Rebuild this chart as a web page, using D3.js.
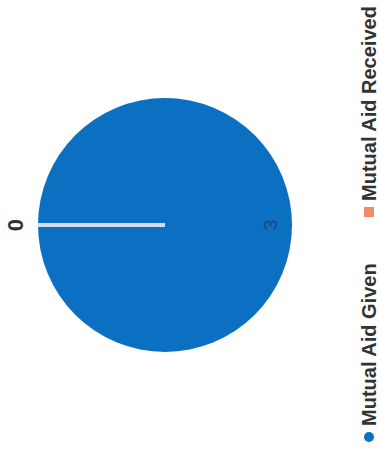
<!DOCTYPE html>
<html>
<head>
<meta charset="utf-8">
<script src="https://cdn.jsdelivr.net/npm/d3@7"></script>
<style>
  html, body { margin: 0; padding: 0; background: #ffffff; }
  svg { display: block; }
</style>
</head>
<body>
<svg id="chart" width="380" height="453"></svg>
<script>
// Pie data: share of mutual aid given vs. received
const categories = ["Mutual Aid Given", "Mutual Aid Received"];
const values = [3, 0];
const colors = ["#0b6fc2", "#f28c64"];

const W = 380, H = 453;
const svg = d3.select("#chart");

// The chart is laid out in a 453x380 frame, then turned a quarter turn counter-clockwise
const g = svg.append("g").attr("transform", `translate(0,${H}) rotate(-90)`);

const cx = 228, cy = 165, r = 127;

const pie = d3.pie().sort(null).value(d => d.value);
const arcs = pie(categories.map((c, i) => ({ name: c, value: values[i] })));
const arc = d3.arc().innerRadius(0).outerRadius(r);

const color = d3.scaleOrdinal().domain(categories).range(colors);

const plot = g.append("g").attr("transform", `translate(${cx},${cy})`);

plot.selectAll("path.slice")
  .data(arcs)
  .join("path")
  .attr("class", "slice")
  .attr("d", arc)
  .attr("fill", d => color(d.data.name));

// Zero-value slice shows as a divider line from the center to the rim
arcs.filter(d => d.value === 0).forEach(d => {
  const a = d.startAngle;
  plot.append("line")
    .attr("x1", 0).attr("y1", 0)
    .attr("x2", r * Math.sin(a)).attr("y2", -r * Math.cos(a))
    .attr("stroke", "#d6dde8")
    .attr("stroke-width", 4);
});

// Value labels
const labelFont = "'Liberation Sans', Arial, sans-serif";
arcs.forEach(d => {
  const mid = (d.startAngle + d.endAngle) / 2;
  if (d.value === 0) {
    const rr = r + 15;
    plot.append("text")
      .attr("x", rr * Math.sin(mid))
      .attr("y", -rr * Math.cos(mid))
      .attr("text-anchor", "middle")
      .attr("font-family", labelFont)
      .attr("font-weight", "bold")
      .attr("font-size", 22)
      .attr("fill", "#333333")
      .text(d.value);
  } else {
    const rr = r - 22;
    plot.append("text")
      .attr("x", rr * Math.sin(mid))
      .attr("y", -rr * Math.cos(mid))
      .attr("text-anchor", "middle")
      .attr("dy", "0.35em")
      .attr("font-family", labelFont)
      .attr("font-size", 19)
      .attr("fill", "#1e4a78")
      .text(d.value);
  }
});

// Legend along the bottom of the unrotated frame
const legendY = 369;
const legendX = [16, 241];
const legend = g.append("g");
categories.forEach((c, i) => {
  const item = legend.append("g").attr("transform", `translate(${legendX[i]},${legendY})`);
  if (i === 0) {
    item.append("circle").attr("cx", 0).attr("cy", 0).attr("r", 5).attr("fill", color(c));
  } else {
    item.append("rect").attr("x", -5).attr("y", -5).attr("width", 10).attr("height", 10).attr("fill", color(c));
  }
  item.append("text")
    .attr("x", 11)
    .attr("y", 0)
    .attr("dy", "0.36em")
    .attr("font-family", "'Liberation Sans Narrow', 'Liberation Sans', Arial, sans-serif")
    .attr("font-weight", "bold")
    .attr("font-size", 20)
    .attr("fill", "#333333")
    .text(c);
});
</script>
</body>
</html>
